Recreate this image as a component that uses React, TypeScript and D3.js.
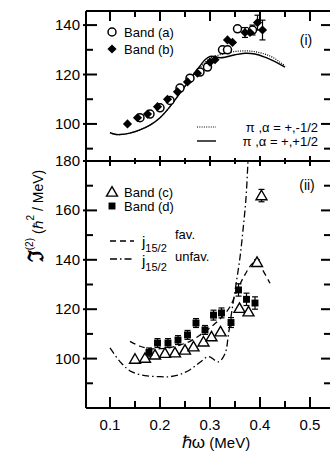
import React from 'react'
import * as d3 from 'd3'

// panel (i): bands (a) and (b), [hbar omega (MeV), J2]
const bandA = [
  [0.16, 102.5], [0.18, 104], [0.2, 106.5], [0.22, 109.5], [0.24, 114.5],
  [0.26, 118.5], [0.28, 121], [0.295, 123], [0.325, 130], [0.335, 130],
  [0.355, 138.5], [0.385, 138]
]
const bandAErr = [0, 0, 0, 0, 0, 0, 0, 0, 0, 0, 0, 2]
const bandB = [
  [0.135, 100], [0.155, 102.5], [0.175, 104], [0.195, 107], [0.215, 110],
  [0.235, 113], [0.255, 117], [0.275, 120.5], [0.3, 125], [0.31, 126],
  [0.335, 134], [0.345, 133], [0.37, 137], [0.38, 137], [0.395, 141], [0.405, 138]
]
const bandBErr = [0, 0, 0, 0, 0, 0, 0, 0, 0, 0, 0, 0, 2, 0, 3, 4]
// cranking calculations, panel (i)
const calcMinus = [
  [0.1, 96.5], [0.11, 95.8], [0.12, 95.7], [0.14, 96.3], [0.16, 97.6], [0.18, 99.5],
  [0.2, 102.5], [0.22, 107], [0.24, 112.5], [0.26, 118], [0.28, 122.8], [0.3, 126.5],
  [0.32, 128], [0.34, 129], [0.36, 129.5], [0.38, 129.5], [0.4, 128.8], [0.42, 127.5],
  [0.44, 125], [0.45, 123.5]
]
const calcPlus = [
  [0.1, 96.5], [0.11, 95.8], [0.12, 95.7], [0.14, 96.3], [0.16, 97.6], [0.18, 99.5],
  [0.2, 102.5], [0.22, 107], [0.24, 112.5], [0.26, 118], [0.28, 123.5], [0.29, 126],
  [0.3, 127.3], [0.31, 127.2], [0.32, 126.8], [0.33, 127], [0.35, 128], [0.37, 128.6],
  [0.39, 128.3], [0.41, 127], [0.43, 125.2], [0.45, 123]
]

// panel (ii): bands (c) and (d)
const bandC = [
  [0.15, 99.8], [0.17, 100.2], [0.19, 101.5], [0.21, 102.2], [0.23, 102.4],
  [0.25, 103.5], [0.267, 104.8], [0.287, 106.8], [0.303, 108.9], [0.321, 110.9],
  [0.359, 120.4], [0.377, 119], [0.394, 139], [0.403, 166]
]
const bandCErr = [0, 0, 0, 0, 0, 0, 0, 0, 0, 0, 0, 0, 1, 2.5]
const bandD = [
  [0.178, 102.5], [0.195, 106.3], [0.216, 106.3], [0.236, 107.5], [0.255, 109.6],
  [0.272, 114.4], [0.29, 111.6], [0.307, 117.6], [0.323, 118.5], [0.342, 114.6],
  [0.357, 127.8], [0.373, 124], [0.39, 122.5]
]
const bandDErr = [1.8, 1.8, 1.8, 1.8, 1.8, 1.8, 1.8, 2, 2, 2, 2.5, 2.5, 2.5]
const j152Fav = [
  [0.14, 107], [0.16, 105], [0.18, 104], [0.2, 104], [0.22, 104.5], [0.24, 105.5],
  [0.26, 107], [0.28, 109.5], [0.3, 112.5], [0.32, 116], [0.34, 121], [0.355, 128],
  [0.37, 134], [0.385, 138.5], [0.395, 139], [0.405, 136], [0.42, 130.5]
]
const j152Unfav = [
  [0.1, 104.3], [0.123, 98.1], [0.143, 94.7], [0.17, 93.1], [0.2, 92.7], [0.22, 92.7],
  [0.24, 93.6], [0.26, 95.5], [0.28, 98.5], [0.297, 100.8], [0.317, 98.7], [0.33, 102],
  [0.337, 110], [0.343, 118.3], [0.352, 130], [0.36, 141], [0.366, 152], [0.372, 165],
  [0.376, 180], [0.378, 188]
]

const xMajor = [0.1, 0.2, 0.3, 0.4, 0.5]
const xMinor = [0.15, 0.25, 0.35, 0.45]
const yTopMajor = [100, 120, 140]
const yTopMinor = [90, 110, 130]
const yBotMajor = [100, 120, 140, 160, 180]
const yBotMinor = [90, 110, 130, 150, 170]

const font = "'Liberation Sans Narrow', 'Liberation Sans', Arial, sans-serif"

const x = d3.scaleLinear().domain([0.052, 0.54]).range([86, 330])
const yTop = d3.scaleLinear().domain([85, 145.7]).range([161, 11])
const yBot = d3.scaleLinear().domain([80, 180]).range([408, 161])

const lineFor = (y: d3.ScaleLinear<number, number>) =>
  d3.line<number[]>()
    .x(d => x(d[0]))
    .y(d => y(d[1]))
    .curve(d3.curveCatmullRom)

const square = d3.symbol().type(d3.symbolSquare)
const triangle = d3.symbol().type(d3.symbolTriangle).size(52)

function ErrBars({data, err, y}: any) {
  return (
    <g stroke="#000" strokeWidth={1.2}>
      {data.map((d: number[], i: number) => {
        if (!err[i]) return null
        const cx = x(d[0])
        const y0 = y(d[1] - err[i])
        const y1 = y(d[1] + err[i])
        return (
          <g key={i}>
            <line x1={cx} x2={cx} y1={y0} y2={y1} />
            <line x1={cx - 3} x2={cx + 3} y1={y0} y2={y0} />
            <line x1={cx - 3} x2={cx + 3} y1={y1} y2={y1} />
          </g>
        )
      })}
    </g>
  )
}

const circle = (cx: number, cy: number, k: any) => (
  <circle key={k} cx={cx} cy={cy} r={4} fill="#fff" stroke="#000" strokeWidth={1.5} />
)
const diamond = (cx: number, cy: number, k: any) => (
  <path key={k} d={square.size(42)()!} transform={`translate(${cx},${cy}) rotate(45)`} fill="#000" />
)
const tri = (cx: number, cy: number, k: any) => (
  <path key={k} d={triangle()!} transform={`translate(${cx},${cy + 1})`} fill="#fff" stroke="#000" strokeWidth={1.4} />
)
const sq = (cx: number, cy: number, k: any) => (
  <path key={k} d={square.size(48)()!} transform={`translate(${cx},${cy})`} fill="#000" />
)

function YTicks({y, major, minor}: any) {
  return (
    <g>
      {major.map((v: number) => (
        <g key={'M' + v}>
          <line x1={83} x2={97} y1={y(v)} y2={y(v)} />
          <line x1={321} x2={330} y1={y(v)} y2={y(v)} />
          <text x={80} y={y(v) + 5} textAnchor="end" stroke="none" fontSize={15}>
            {v}
          </text>
        </g>
      ))}
      {minor.map((v: number) => (
        <g key={'m' + v}>
          <line x1={86} x2={93} y1={y(v)} y2={y(v)} />
          <line x1={324} x2={330} y1={y(v)} y2={y(v)} />
        </g>
      ))}
    </g>
  )
}

export default function App() {
  const lineTop = lineFor(yTop)
  const lineBot = lineFor(yBot)
  return (
    <svg width={330} height={454} style={{position: 'absolute', left: 0, top: 0}} fontFamily={font}>
      <rect width={330} height={454} fill="#fff" />
      <defs>
        <clipPath id="clipTop">
          <rect x={86} y={11} width={244} height={150} />
        </clipPath>
        <clipPath id="clipBot">
          <rect x={86} y={161} width={244} height={247} />
        </clipPath>
      </defs>

      {/* panel (i) */}
      <g clipPath="url(#clipTop)" fill="none" stroke="#000">
        <path d={lineTop(calcMinus)!} strokeWidth={1.2} strokeDasharray="1 1.3" />
        <path d={lineTop(calcPlus)!} strokeWidth={1.4} />
        <ErrBars data={bandA} err={bandAErr} y={yTop} />
        <ErrBars data={bandB} err={bandBErr} y={yTop} />
      </g>
      <g clipPath="url(#clipTop)">
        {bandA.map((d, i) => circle(x(d[0]), yTop(d[1]), i))}
        {bandB.map((d, i) => diamond(x(d[0]), yTop(d[1]), i))}
      </g>

      {/* panel (ii) */}
      <g clipPath="url(#clipBot)" fill="none" stroke="#000">
        <path d={lineBot(j152Fav)!} strokeWidth={1.3} strokeDasharray="6 4" />
        <path d={lineBot(j152Unfav)!} strokeWidth={1.3} strokeDasharray="7 3 1.5 3" />
        <ErrBars data={bandC} err={bandCErr} y={yBot} />
        <ErrBars data={bandD} err={bandDErr} y={yBot} />
      </g>
      <g clipPath="url(#clipBot)">
        {bandC.map((d, i) => tri(x(d[0]), yBot(d[1]), i))}
        {bandD.map((d, i) => sq(x(d[0]), yBot(d[1]), i))}
      </g>

      {/* frame and ticks */}
      <g stroke="#000" strokeWidth={2}>
        <line x1={86} x2={86} y1={11} y2={408} />
        <line x1={86} x2={330} y1={11} y2={11} />
        <line x1={86} x2={330} y1={161} y2={161} />
        <line x1={86} x2={330} y1={408} y2={408} />
        {xMajor.map(v => (
          <g key={'xM' + v}>
            <line x1={x(v)} x2={x(v)} y1={11} y2={21} />
            <line x1={x(v)} x2={x(v)} y1={156} y2={166} />
            <line x1={x(v)} x2={x(v)} y1={397} y2={408} />
          </g>
        ))}
        {xMinor.map(v => (
          <g key={'xm' + v}>
            <line x1={x(v)} x2={x(v)} y1={11} y2={17} />
            <line x1={x(v)} x2={x(v)} y1={158} y2={164} />
            <line x1={x(v)} x2={x(v)} y1={401} y2={408} />
          </g>
        ))}
        <YTicks y={yTop} major={yTopMajor} minor={yTopMinor} />
        <YTicks y={yBot} major={yBotMajor} minor={yBotMinor} />
      </g>

      {xMajor.map(v => (
        <text key={'xl' + v} x={x(v)} y={430} textAnchor="middle" fontSize={15}>
          {v}
        </text>
      ))}
      <text x={216} y={448} textAnchor="middle" fontSize={15}>
        <tspan fontSize={17}>ℏω</tspan> (MeV)
      </text>
      <text transform="translate(43,216) rotate(-90)" textAnchor="middle" fontSize={14}>
        <tspan fontSize={21} fontWeight="bold" fontFamily="DejaVu Serif">ℑ</tspan>
        <tspan fontSize={10} dy={-10}>(2)</tspan>
        <tspan dy={10}> (ℏ</tspan>
        <tspan fontSize={10} dy={-9}>2</tspan>
        <tspan dy={9}> / MeV)</tspan>
      </text>

      {/* legends panel (i) */}
      {circle(112, 32, 'lc')}
      <text x={124} y={36.5} fontSize={13}>Band (a)</text>
      {diamond(112, 49, 'ld')}
      <text x={124} y={53.5} fontSize={13}>Band (b)</text>
      <text x={306} y={45} textAnchor="middle" fontSize={14}>(i)</text>
      <line x1={197} x2={216} y1={127} y2={127} stroke="#000" strokeWidth={1.2} strokeDasharray="1 1.3" />
      <line x1={197} x2={216} y1={141} y2={141} stroke="#000" strokeWidth={1.4} />
      <text x={318} y={131.5} textAnchor="end" fontSize={13}>π ,α = +,-1/2</text>
      <text x={318} y={145.5} textAnchor="end" fontSize={13}>π ,α = +,+1/2</text>

      {/* legends panel (ii) */}
      {tri(112, 192, 'lt')}
      <text x={124} y={196.5} fontSize={13}>Band (c)</text>
      {sq(112, 206, 'ls')}
      <text x={124} y={210.5} fontSize={13}>Band (d)</text>
      <text x={307} y={190} textAnchor="middle" fontSize={14}>(ii)</text>
      <line x1={110} x2={134} y1={241} y2={241} stroke="#000" strokeWidth={1.3} strokeDasharray="6 4" />
      <line x1={110} x2={134} y1={259} y2={259} stroke="#000" strokeWidth={1.3} strokeDasharray="7 3 1.5 3" />
      <text x={142} y={247} fontSize={15}>
        j<tspan fontSize={11} dy={5}>15/2</tspan>
      </text>
      <text x={175} y={239} fontSize={13}>fav.</text>
      <text x={142} y={266} fontSize={15}>
        j<tspan fontSize={11} dy={5}>15/2</tspan>
      </text>
      <text x={175} y={261} fontSize={13}>unfav.</text>
    </svg>
  )
}
